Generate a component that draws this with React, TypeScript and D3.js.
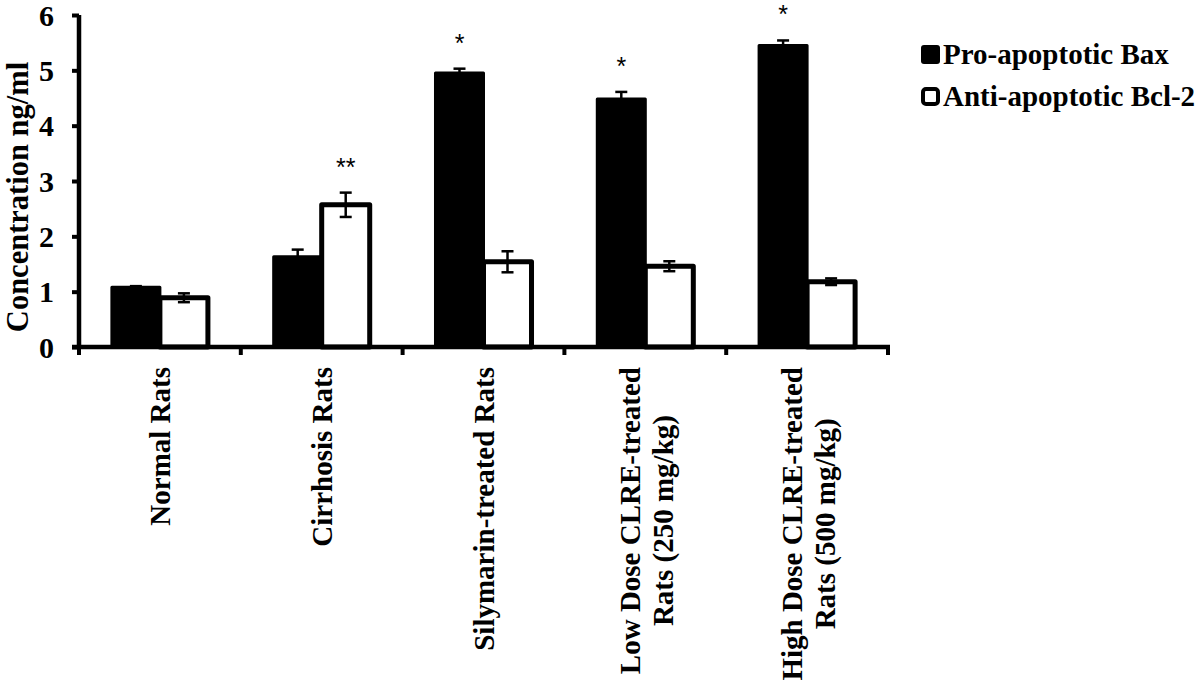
import * as d3 from "d3";
import React, { useEffect, useRef } from "react";

// group labels (each entry = lines of the rotated label)
const groups: string[][] = [
  ["Normal Rats"],
  ["Cirrhosis Rats"],
  ["Silymarin-treated Rats"],
  ["Low Dose CLRE-treated", "Rats (250 mg/kg)"],
  ["High Dose CLRE-treated", "Rats (500 mg/kg)"],
];
const seriesNames = ["Pro-apoptotic Bax", "Anti-apoptotic Bcl-2"];
const baxValues = [1.08, 1.63, 4.95, 4.48, 5.45];
const baxErrors = [0.02, 0.13, 0.08, 0.13, 0.09];
const bclValues = [0.89, 2.57, 1.54, 1.46, 1.18];
const bclErrors = [0.08, 0.22, 0.19, 0.09, 0.06];
const stars = ["", "**", "*", "*", "*"];
const starSeries = [0, 1, 0, 0, 0];
const yTicks = [0, 1, 2, 3, 4, 5, 6];

const FONT = "'Liberation Serif', 'Times New Roman', serif";

export default function App() {
  const ref = useRef<SVGSVGElement>(null);

  useEffect(() => {
    const margin = { top: 15, left: 79 };
    const width = 809;
    const height = 332;

    const root = d3.select(ref.current);
    root.selectAll("*").remove();
    const svg = root
      .append("g")
      .attr("transform", `translate(${margin.left},${margin.top})`);

    const x0 = d3
      .scaleBand<number>()
      .domain(groups.map((_, i) => i))
      .range([0, width])
      .padding(0);
    const x1 = d3
      .scaleBand<number>()
      .domain([0, 1])
      .range([0, x0.bandwidth()])
      .paddingInner(0)
      .paddingOuter(0.685);
    const y = d3.scaleLinear().domain([0, 6]).range([height, 0]);

    const values = [baxValues, bclValues];
    const errors = [baxErrors, bclErrors];

    // bars
    const bars = svg.append("g");
    groups.forEach((_, i) => {
      [0, 1].forEach((s) => {
        bars
          .append("rect")
          .attr("x", (x0(i) as number) + (x1(s) as number))
          .attr("y", y(values[s][i]))
          .attr("width", x1.bandwidth())
          .attr("height", height - y(values[s][i]))
          .attr("fill", s === 0 ? "#000" : "#fff")
          .attr("stroke", "#000")
          .attr("stroke-width", s === 0 ? 3 : 5)
          .attr("stroke-linejoin", "round");
      });
    });

    // error bars
    const err = svg.append("g").attr("stroke", "#000").attr("stroke-width", 2.5);
    groups.forEach((_, i) => {
      [0, 1].forEach((s) => {
        const cx = (x0(i) as number) + (x1(s) as number) + x1.bandwidth() / 2;
        const hi = y(values[s][i] + errors[s][i]);
        const lo = y(values[s][i] - errors[s][i]);
        err.append("line").attr("x1", cx).attr("x2", cx).attr("y1", hi).attr("y2", lo);
        err.append("line").attr("x1", cx - 6).attr("x2", cx + 6).attr("y1", hi).attr("y2", hi);
        err.append("line").attr("x1", cx - 6).attr("x2", cx + 6).attr("y1", lo).attr("y2", lo);
      });
    });

    // significance stars
    svg
      .append("g")
      .selectAll("text")
      .data(stars)
      .enter()
      .append("text")
      .attr("x", (_, i) => (x0(i) as number) + (x1(starSeries[i]) as number) + x1.bandwidth() / 2)
      .attr("y", (_, i) => y(values[starSeries[i]][i] + errors[starSeries[i]][i]) - 17)
      .attr("text-anchor", "middle")
      .attr("font-family", "'Liberation Sans', Arial, sans-serif")
      .attr("font-size", 25)
      .text((d) => d);

    // y axis
    const yAxis = svg
      .append("g")
      .call(d3.axisLeft(y).tickValues(yTicks).tickSize(7).tickFormat(d3.format("d")));
    yAxis.select(".domain").remove();
    yAxis.selectAll("line").attr("stroke", "#000").attr("stroke-width", 4);
    yAxis
      .selectAll("text")
      .attr("x", -25)
      .attr("dy", "0.34em")
      .attr("font-family", FONT)
      .attr("font-weight", "bold")
      .attr("font-size", 30)
      .attr("fill", "#000");
    svg
      .append("line")
      .attr("x1", 0)
      .attr("x2", 0)
      .attr("y1", 0)
      .attr("y2", height + 2)
      .attr("stroke", "#000")
      .attr("stroke-width", 4.5);

    // x axis
    svg
      .append("line")
      .attr("x1", -7)
      .attr("x2", width + 2)
      .attr("y1", height)
      .attr("y2", height)
      .attr("stroke", "#000")
      .attr("stroke-width", 4.5);
    svg
      .append("g")
      .selectAll("line")
      .data(d3.range(groups.length + 1))
      .enter()
      .append("line")
      .attr("x1", (d) => d * x0.step())
      .attr("x2", (d) => d * x0.step())
      .attr("y1", height)
      .attr("y2", height + 8)
      .attr("stroke", "#000")
      .attr("stroke-width", 4);

    // rotated category labels
    const labels = svg.append("g");
    groups.forEach((lines, i) => {
      const cx = (x0(i) as number) + x0.bandwidth() / 2;
      const top = height + 20;
      const g = labels.append("g");
      const first = g
        .append("text")
        .attr("font-family", FONT)
        .attr("font-weight", "bold")
        .attr("font-size", 29)
        .attr("text-anchor", "middle")
        .text(lines[0]);
      const len = (first.node() as SVGTextElement).getComputedTextLength();
      const midY = top + len / 2;
      const base0 = lines.length === 1 ? cx + 10.5 : cx - 5;
      first.attr("transform", `translate(${base0},${midY}) rotate(-90)`);
      if (lines.length > 1) {
        g.append("text")
          .attr("font-family", FONT)
          .attr("font-weight", "bold")
          .attr("font-size", 29)
          .attr("text-anchor", "middle")
          .attr("transform", `translate(${cx + 28},${midY}) rotate(-90)`)
          .text(lines[1]);
      }
    });

    // y title
    root
      .append("text")
      .attr("transform", "translate(28,197) rotate(-90)")
      .attr("text-anchor", "middle")
      .attr("font-family", FONT)
      .attr("font-weight", "bold")
      .attr("font-size", 30.5)
      .text("Concentration ng/ml");

    // legend
    const legend = root.append("g").attr("transform", "translate(921,0)");
    seriesNames.forEach((name, s) => {
      const cy = 54 + s * 42;
      legend
        .append("rect")
        .attr("x", s === 0 ? 0 : 2)
        .attr("y", cy - (s === 0 ? 9 : 7))
        .attr("width", s === 0 ? 19 : 15)
        .attr("height", s === 0 ? 19 : 15)
        .attr("rx", 3)
        .attr("fill", s === 0 ? "#000" : "#fff")
        .attr("stroke", "#000")
        .attr("stroke-width", s === 0 ? 0 : 4);
      legend
        .append("text")
        .attr("x", 22)
        .attr("y", cy + 10)
        .attr("font-family", FONT)
        .attr("font-weight", "bold")
        .attr("font-size", 29)
        .text(name);
    });
  }, []);

  return (
    <svg
      ref={ref}
      width={1200}
      height={685}
      style={{ position: "absolute", left: 0, top: 0, background: "#fff" }}
    />
  );
}
